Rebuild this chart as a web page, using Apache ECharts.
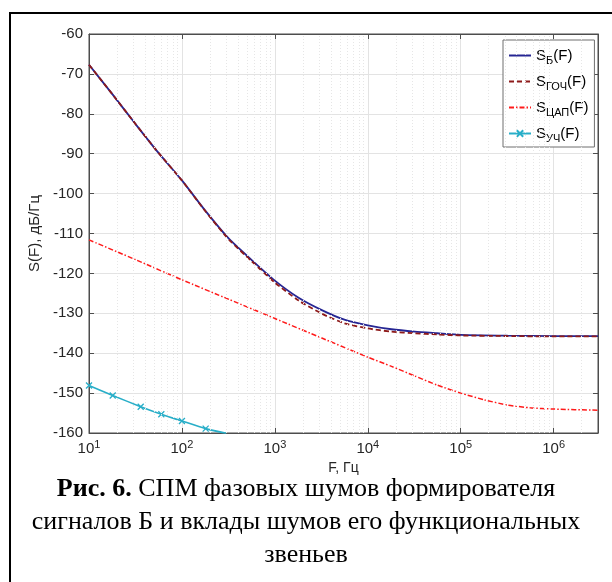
<!DOCTYPE html>
<html>
<head>
<meta charset="utf-8">
<script src="https://cdn.jsdelivr.net/npm/echarts@6/dist/echarts.min.js"></script>
<style>
  html, body { margin: 0; padding: 0; background: #fff; }
  #chart { width: 612px; height: 582px; }
</style>
</head>
<body>
<div id="chart"></div>
<script>
// values
const freqB = [10, 18, 32, 56, 100, 180, 320, 560, 1000, 1800, 3200, 5600, 1e4, 1.8e4, 3.2e4, 5.6e4, 1e5, 3.2e5, 1e6, 3e6];
const sB = [-67.7, -75.2, -82.7, -89.8, -96.7, -104.4, -111.3, -116.6, -121.8, -126.1, -129.2, -131.6, -133.0, -134.0, -134.6, -135.0, -135.4, -135.6, -135.7, -135.7];
const sGoch = [-67.7, -75.2, -82.7, -89.8, -96.7, -104.5, -111.5, -116.9, -122.3, -126.8, -130.1, -132.5, -133.8, -134.6, -135.0, -135.3, -135.55, -135.7, -135.8, -135.8];
const freqDac = [10, 32, 100, 320, 1000, 3200, 1e4, 1.8e4, 3.2e4, 5.6e4, 1e5, 1.8e5, 3.2e5, 5.6e5, 1e6, 3e6];
const sDac = [-111.6, -116.6, -121.6, -126.5, -131.3, -136.2, -141.0, -143.3, -145.7, -148.0, -150.0, -151.7, -153.0, -153.7, -154.0, -154.3];
const freqUch = [10, 18, 36, 60, 100, 180, 300];
const sUch = [-148.1, -150.6, -153.4, -155.3, -157.0, -158.9, -160.1];
const names = ['Б', 'ГОЧ', 'ЦАП', 'УЧ'];
const captionLines = [
  '{b|Рис. 6.} СПМ фазовых шумов формирователя',
  'сигналов Б и вклады шумов его функциональных',
  'звеньев',
];
const yTicks = { min: -160, max: -60, step: 10 };
const xRange = { min: 10, max: 3e6 };

const minorX = [];
for (let p = 10; p < xRange.max; p *= 10) {
  for (let k = 2; k <= 9; k++) {
    if (k * p < xRange.max) minorX.push(k * p);
  }
}

const pairs = (xs, ys) => xs.map((x, i) => [x, ys[i]]);
const axisColor = '#4d4d4d';
const sans = 'Liberation Sans';
const serif = 'Liberation Serif';
const capSize = 26;

const chart = echarts.init(document.getElementById('chart'));
chart.setOption({
  animation: false,
  backgroundColor: '#fff',
  graphic: [{
    type: 'rect',
    shape: { x: 10, y: 13, width: 700, height: 700 },
    style: { fill: 'none', stroke: '#000', lineWidth: 2 },
    z: -10,
  }],
  title: captionLines.map((t, i) => ({
    left: 'center',
    top: 471 + i * 33,
    text: t,
    textStyle: {
      fontFamily: serif, fontSize: capSize, fontWeight: 'normal', color: '#000',
      rich: { b: { fontFamily: serif, fontSize: capSize, fontWeight: 'bold', color: '#000' } },
    },
  })),
  grid: {
    left: 89, top: 34, right: 14, bottom: 149,
    show: true, borderColor: axisColor, borderWidth: 1,
    backgroundColor: '#fff',
  },
  legend: {
    orient: 'vertical',
    left: 503, top: 40,
    padding: [8, 6, 3, 5],
    itemWidth: 22, itemHeight: 8, itemGap: 8,
    backgroundColor: '#fff',
    borderColor: '#6e6e6e', borderWidth: 1,
    data: names.map((n, i) => (i < 3 ? { name: n, itemStyle: { opacity: 0 } } : { name: n })),
    formatter: (n) => 'S{sub|' + n + '}(F)',
    textStyle: {
      fontFamily: sans, fontSize: 15, color: '#000',
      rich: {
        sub: { fontFamily: sans, fontSize: 11, color: '#000', padding: [10, 0, 0, 0] },
      },
    },
  },
  xAxis: [{
    type: 'log', logBase: 10, min: xRange.min, max: xRange.max,
    name: 'F, Гц', nameLocation: 'middle', nameGap: 27,
    nameTextStyle: { fontFamily: sans, fontSize: 14, color: '#262626' },
    axisLine: { show: true, onZero: false, lineStyle: { color: axisColor } },
    axisTick: { inside: true, length: 5, lineStyle: { color: axisColor } },
    splitLine: { show: true, lineStyle: { color: '#e3e3e3', width: 1 } },
    axisLabel: {
      margin: 6,
      fontFamily: sans, fontSize: 15, color: '#262626',
      formatter: (v) => {
        const n = Math.round(Math.log10(v));
        if (Math.abs(Math.log10(v) - n) > 1e-6) return '';
        return '10{sup|' + n + '}';
      },
      rich: { sup: { fontFamily: sans, fontSize: 11, color: '#262626', padding: [0, 0, 9, 0] } },
    },
  }, {
    type: 'log', logBase: 10, min: xRange.min, max: xRange.max, position: 'top',
    axisLine: { show: true, lineStyle: { color: axisColor } },
    axisTick: { inside: true, length: 5, lineStyle: { color: axisColor } },
    axisLabel: { show: false },
    splitLine: { show: false },
  }],
  yAxis: [{
    type: 'value', min: yTicks.min, max: yTicks.max, interval: yTicks.step,
    name: 'S(F), дБ/Гц', nameLocation: 'middle', nameGap: 46,
    nameTextStyle: { fontFamily: sans, fontSize: 15, color: '#262626' },
    axisLine: { show: true, lineStyle: { color: axisColor } },
    axisTick: { inside: true, length: 5, lineStyle: { color: axisColor } },
    splitLine: { show: true, lineStyle: { color: '#e3e3e3', width: 1 } },
    axisLabel: { margin: 6, fontFamily: sans, fontSize: 15, color: '#262626' },
  }, {
    type: 'value', min: yTicks.min, max: yTicks.max, interval: yTicks.step, position: 'right',
    axisLine: { show: true, lineStyle: { color: axisColor } },
    axisTick: { inside: true, length: 5, lineStyle: { color: axisColor } },
    axisLabel: { show: false },
    splitLine: { show: false },
  }],
  series: [
    {
      name: 'minor-grid', type: 'line', data: [], silent: true,
      markLine: {
        symbol: 'none', silent: true, label: { show: false },
        lineStyle: { color: '#e6e6e6', type: [1, 2], width: 1 },
        data: minorX.map((x) => ({ xAxis: x })),
      },
    },
    {
      name: names[0], type: 'line', data: pairs(freqB, sB),
      smooth: 0.2, showSymbol: false, symbol: 'none',
      color: '#262693', lineStyle: { width: 1.8, color: '#262693' }, z: 3,
    },
    {
      name: names[1], type: 'line', data: pairs(freqB, sGoch),
      smooth: 0.2, showSymbol: false, symbol: 'none',
      color: '#8e1a1a', lineStyle: { width: 1.8, color: '#8e1a1a', type: [5, 3] }, z: 4,
    },
    {
      name: names[2], type: 'line', data: pairs(freqDac, sDac),
      smooth: 0.2, showSymbol: false, symbol: 'none',
      color: '#ff1a1a', lineStyle: { width: 1.5, color: '#ff1a1a', type: [5, 2, 1.5, 2] }, z: 3,
    },
    {
      name: names[3], type: 'line', data: pairs(freqUch, sUch),
      smooth: 0.2,
      symbol: 'path://M0,0L10,10M10,0L0,10', symbolSize: 6,
      color: '#28aec8',
      itemStyle: { color: '#28aec8', borderColor: '#28aec8', borderWidth: 1.3 },
      lineStyle: { width: 1.6, color: '#28aec8' }, z: 3,
    },
  ],
});
</script>
</body>
</html>
